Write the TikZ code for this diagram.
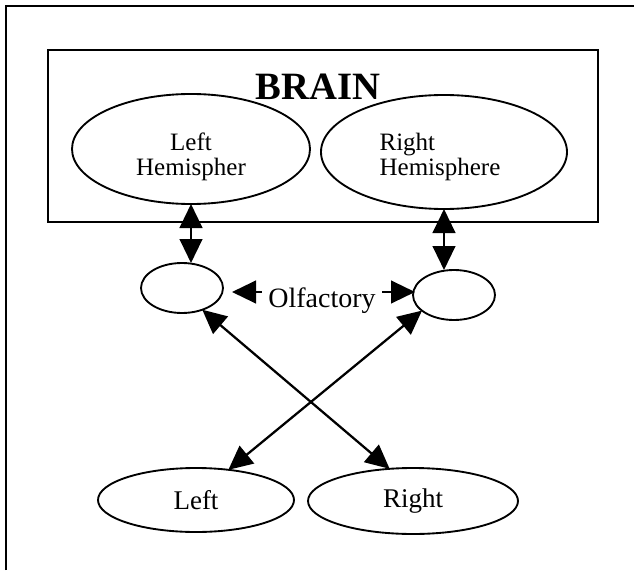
\documentclass[tikz,border=0pt]{standalone}
\usepackage{fontspec}
\setmainfont{Liberation Serif}
\usetikzlibrary{arrows.meta,calc,shapes.geometric}
\tikzset{
  ov/.style={draw, ellipse, line width=1.4pt, inner sep=0pt, outer sep=0pt},
  txt/.style={inner sep=0pt, font=\fontsize{18.75}{18.75}\selectfont},
  dbl/.style={line width=1.7pt, {Triangle[length=18pt,width=17pt]}-{Triangle[length=18pt,width=17pt]}},
}
\begin{document}
\begin{tikzpicture}[x=0.75pt,y=-0.75pt]
\useasboundingbox (0,0) rectangle (634,570);
% outer frame (top and left only)
\draw[line width=0.8pt] (6,570) -- (6,6) -- (634,6);
% brain box
\node[draw, line width=1.5pt, inner sep=0pt, outer sep=0pt,
      minimum width=412.5pt, minimum height=129pt] (box) at (323,136) {};
\node[anchor=base, inner sep=0pt, font=\bfseries\fontsize{29}{29}\selectfont] (brainlbl) at (318,100) {BRAIN};
% hemispheres
\node[ov, minimum width=178.5pt, minimum height=82.5pt] (LH) at (191,149) {};
\node[txt, align=center] (LHt) at (191,157) {Left\\Hemispher};
\node[ov, minimum width=184.5pt, minimum height=85.5pt] (RH) at (444,152) {};
\node[txt, align=left] (RHt) at (440,157) {Right\\Hemisphere};
% olfactory ellipses
\node[ov, minimum width=61.5pt, minimum height=37.5pt] (sl) at (182,288) {};
\node[ov, minimum width=61.5pt, minimum height=37.5pt] (sr) at (454,295) {};
% bottom ellipses
\node[ov, minimum width=147pt, minimum height=48pt, font=\fontsize{20.25}{20.25}\selectfont] (L) at (196,500) {Left};
\node[ov, minimum width=157.5pt, minimum height=49.5pt, font=\fontsize{20.25}{20.25}\selectfont] (R) at (413,501) {Right};
% connectors
\draw[dbl] (LH.south) -- (LH.south |- sl.north);
\draw[dbl] (RH.south) -- (RH.south |- sr.north);
\draw[dbl] ($(sl.east)+(9,4)$) -- ($(sr.west)+(2,-3)$);
\node[fill=white, inner xsep=5pt, inner ysep=1pt, font=\fontsize{21}{21}\selectfont] (olf) at (322,301) {Olfactory};
\draw[dbl] (sl.-47) -- (R.126);
\draw[dbl] (sr.206) -- (L.43);
\end{tikzpicture}
\end{document}
